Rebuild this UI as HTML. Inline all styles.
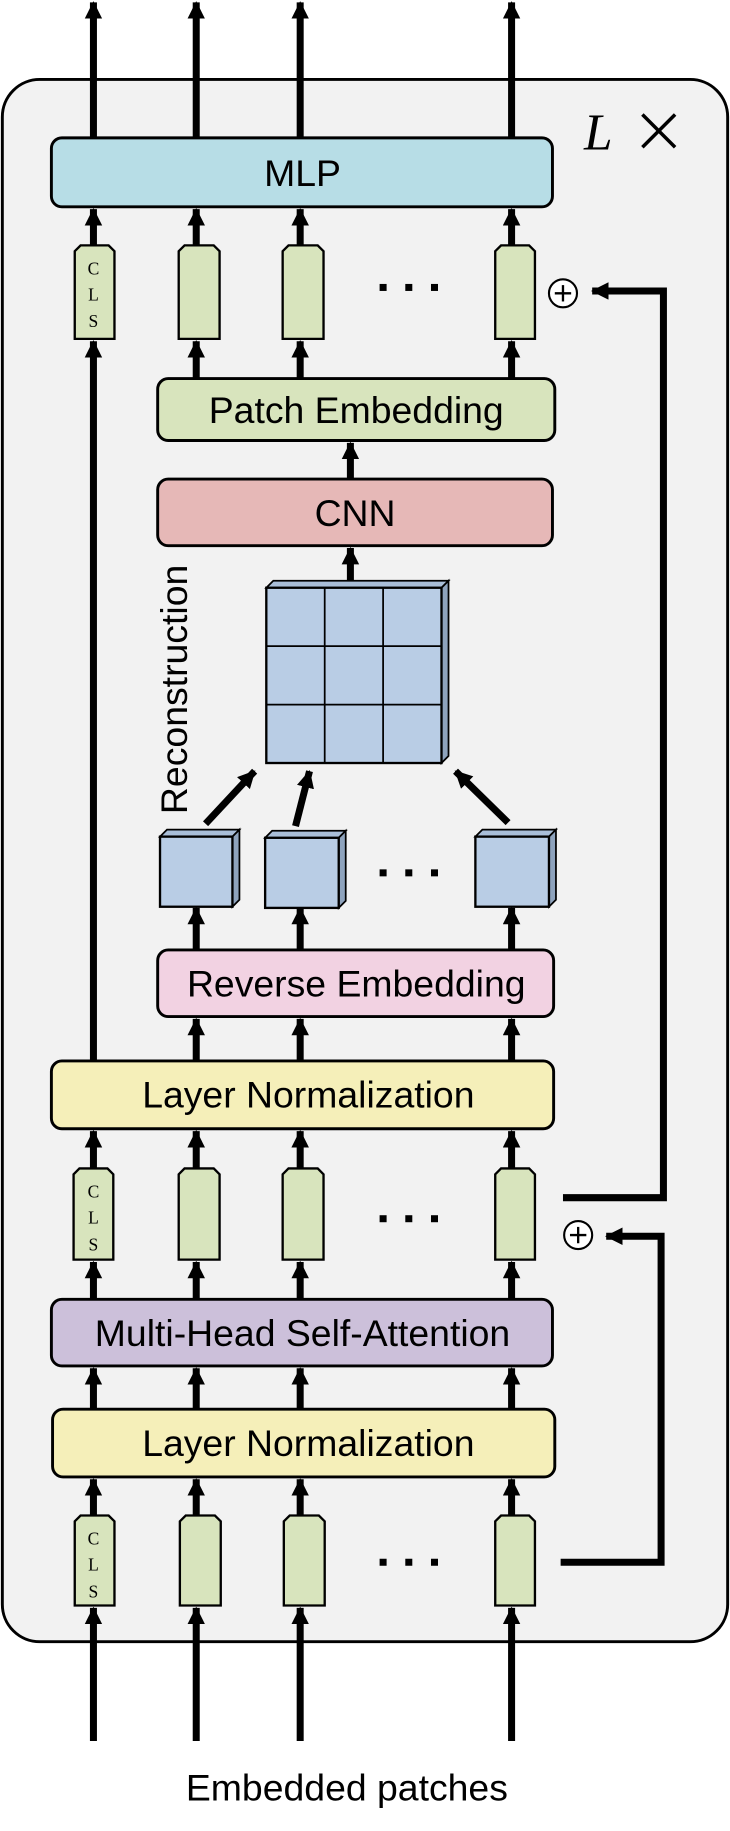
<!DOCTYPE html>
<html><head><meta charset="utf-8"><style>
html,body{margin:0;padding:0;background:#fff;}
svg{display:block;}
text{font-family:"Liberation Sans",Arial,sans-serif;fill:#000;}
.s{font-family:"Liberation Serif",serif;font-size:15px;}
</style></head><body>
<svg width="730" height="1831" viewBox="0 0 625 1567" preserveAspectRatio="none" xmlns="http://www.w3.org/2000/svg">
<defs>
<marker id="a" markerUnits="userSpaceOnUse" markerWidth="18" markerHeight="18" refX="14" refY="7.5" orient="auto">
<path d="M0,0 L15,7.5 L0,15 Z" fill="#000"/>
</marker>
</defs>
<rect x="2" y="68" width="621" height="1337" rx="32" fill="#f2f2f2" stroke="#000" stroke-width="2.5"/>
<text x="500" y="128" font-style="italic" font-size="44" style="font-family:'Liberation Serif',serif">L</text>
<g stroke="#000" stroke-width="3"><line x1="550" y1="98" x2="578" y2="126"/><line x1="578" y1="98" x2="550" y2="126"/></g>

<g stroke="#000" stroke-width="6" fill="none" marker-end="url(#a)">
<line x1="80" y1="118" x2="80" y2="2"/><line x1="168" y1="118" x2="168" y2="2"/><line x1="257" y1="118" x2="257" y2="2"/><line x1="438" y1="118" x2="438" y2="2"/>
<line x1="80" y1="210" x2="80" y2="179"/><line x1="168" y1="210" x2="168" y2="179"/><line x1="257" y1="210" x2="257" y2="179"/><line x1="438" y1="210" x2="438" y2="179"/>
<line x1="168" y1="324" x2="168" y2="292"/><line x1="257" y1="324" x2="257" y2="292"/><line x1="438" y1="324" x2="438" y2="292"/>
<line x1="80" y1="908" x2="80" y2="292"/>
<line x1="300" y1="410" x2="300" y2="379"/><line x1="300" y1="503" x2="300" y2="469"/>
<line x1="176" y1="705" x2="218" y2="660"/><line x1="253" y1="707" x2="265" y2="660"/><line x1="435" y1="704" x2="390" y2="660"/>
<line x1="168" y1="813" x2="168" y2="777"/><line x1="257" y1="813" x2="257" y2="777"/><line x1="438" y1="813" x2="438" y2="777"/>
<line x1="168" y1="908" x2="168" y2="872"/><line x1="257" y1="908" x2="257" y2="872"/><line x1="438" y1="908" x2="438" y2="872"/>
<line x1="80" y1="1000" x2="80" y2="968"/><line x1="168" y1="1000" x2="168" y2="968"/><line x1="257" y1="1000" x2="257" y2="968"/><line x1="438" y1="1000" x2="438" y2="968"/>
<line x1="80" y1="1112" x2="80" y2="1080"/><line x1="168" y1="1112" x2="168" y2="1080"/><line x1="257" y1="1112" x2="257" y2="1080"/><line x1="438" y1="1112" x2="438" y2="1080"/>
<line x1="80" y1="1206" x2="80" y2="1171"/><line x1="168" y1="1206" x2="168" y2="1171"/><line x1="257" y1="1206" x2="257" y2="1171"/><line x1="438" y1="1206" x2="438" y2="1171"/>
<line x1="80" y1="1297" x2="80" y2="1266"/><line x1="168" y1="1297" x2="168" y2="1266"/><line x1="257" y1="1297" x2="257" y2="1266"/><line x1="438" y1="1297" x2="438" y2="1266"/>
<line x1="80" y1="1490" x2="80" y2="1376"/><line x1="168" y1="1490" x2="168" y2="1376"/><line x1="257" y1="1490" x2="257" y2="1376"/><line x1="438" y1="1490" x2="438" y2="1376"/>
<polyline points="482,1025 568,1025 568,249 507,249"/>
<polyline points="480,1337 566,1337 566,1058 519,1058"/>
</g>

<g stroke="#000" stroke-width="2.5">
<rect x="44" y="118" width="429" height="59" rx="9" fill="#b7dde6"/>
<rect x="135" y="324" width="340" height="53" rx="9" fill="#d8e4bd"/>
<rect x="135" y="410" width="338" height="57" rx="9" fill="#e6b8b7"/>
<rect x="135" y="813" width="339" height="57" rx="9" fill="#f2d2e2"/>
<rect x="44" y="908" width="430" height="58" rx="9" fill="#f5efb9"/>
<rect x="44" y="1112" width="429" height="57" rx="9" fill="#ccc0da"/>
<rect x="45" y="1206" width="430" height="58" rx="9" fill="#f5efb9"/>
</g>
<g font-size="32" text-anchor="middle">
<text x="259" y="159">MLP</text>
<text x="305" y="362">Patch Embedding</text>
<text x="304" y="450">CNN</text>
<text x="305" y="853">Reverse Embedding</text>
<text x="264" y="948">Layer Normalization</text>
<text x="259" y="1152">Multi-Head Self-Attention</text>
<text x="264" y="1246">Layer Normalization</text>
<text x="297" y="1541">Embedded patches</text>
<text x="0" y="0" transform="translate(160,590) rotate(-90)">Reconstruction</text>
</g>

<g fill="#d8e4bd" stroke="#000" stroke-width="2">
<path d="M64,290 V215 L69,210 H93 L98,215 V290 Z"/>
<path d="M153,290 V215 L158,210 H183 L188,215 V290 Z"/>
<path d="M242,290 V215 L247,210 H272 L277,215 V290 Z"/>
<path d="M424,290 V215 L429,210 H453 L458,215 V290 Z"/>
<path d="M63,1078 V1005 L68,1000 H92 L97,1005 V1078 Z"/>
<path d="M153,1078 V1005 L158,1000 H183 L188,1005 V1078 Z"/>
<path d="M242,1078 V1005 L247,1000 H272 L277,1005 V1078 Z"/>
<path d="M424,1078 V1005 L429,1000 H453 L458,1005 V1078 Z"/>
<path d="M64,1374 V1302 L69,1297 H93 L98,1302 V1374 Z"/>
<path d="M154,1374 V1302 L159,1297 H184 L189,1302 V1374 Z"/>
<path d="M243,1374 V1302 L248,1297 H273 L278,1302 V1374 Z"/>
<path d="M424,1374 V1302 L429,1297 H453 L458,1302 V1374 Z"/>
</g>
<g text-anchor="middle">
<text x="80" y="235" class="s">C</text><text x="80" y="257" class="s">L</text><text x="80" y="280" class="s">S</text>
<text x="80" y="1025" class="s">C</text><text x="80" y="1047" class="s">L</text><text x="80" y="1070" class="s">S</text>
<text x="80" y="1322" class="s">C</text><text x="80" y="1344" class="s">L</text><text x="80" y="1367" class="s">S</text>
</g>
<g fill="#000">
<rect x="325" y="243" width="6" height="6"/><rect x="347" y="243" width="6" height="6"/><rect x="369" y="243" width="6" height="6"/>
<rect x="325" y="1040" width="6" height="6"/><rect x="347" y="1040" width="6" height="6"/><rect x="369" y="1040" width="6" height="6"/>
<rect x="325" y="1334" width="6" height="6"/><rect x="347" y="1334" width="6" height="6"/><rect x="369" y="1334" width="6" height="6"/>
<rect x="325" y="744" width="6" height="6"/><rect x="347" y="744" width="6" height="6"/><rect x="369" y="744" width="6" height="6"/>
</g>
<g fill="#fff" stroke="#000" stroke-width="1.8">
<circle cx="482" cy="251" r="12"/><circle cx="495" cy="1057" r="12"/>
</g>
<g stroke="#000" stroke-width="2">
<line x1="475" y1="251" x2="489" y2="251"/><line x1="482" y1="244" x2="482" y2="258"/>
<line x1="488" y1="1057" x2="502" y2="1057"/><line x1="495" y1="1050" x2="495" y2="1064"/>
</g>

<g stroke="#000" stroke-width="1.5">
<path d="M228,503 L234,497 L384,497 L378,503 Z" fill="#a9bed8"/>
<path d="M378,503 L384,497 L384,647 L378,653 Z" fill="#8ea3bd"/>
<rect x="228" y="503" width="150" height="150" fill="#b9cde5" stroke-width="2"/>
<line x1="278" y1="503" x2="278" y2="653"/><line x1="328" y1="503" x2="328" y2="653"/>
<line x1="228" y1="553" x2="378" y2="553"/><line x1="228" y1="603" x2="378" y2="603"/>
</g>
<g stroke="#000" stroke-width="1.5">
<path d="M137,716 L143,710 L205,710 L199,716 Z" fill="#a9bed8"/><path d="M199,716 L205,710 L205,770 L199,776 Z" fill="#8ea3bd"/>
<rect x="137" y="716" width="62" height="60" fill="#b9cde5" stroke-width="2"/>
<path d="M227,717 L233,711 L296,711 L290,717 Z" fill="#a9bed8"/><path d="M290,717 L296,711 L296,771 L290,777 Z" fill="#8ea3bd"/>
<rect x="227" y="717" width="63" height="60" fill="#b9cde5" stroke-width="2"/>
<path d="M407,716 L413,710 L476,710 L470,716 Z" fill="#a9bed8"/><path d="M470,716 L476,710 L476,770 L470,776 Z" fill="#8ea3bd"/>
<rect x="407" y="716" width="63" height="60" fill="#b9cde5" stroke-width="2"/>
</g>
</svg>
</body></html>
